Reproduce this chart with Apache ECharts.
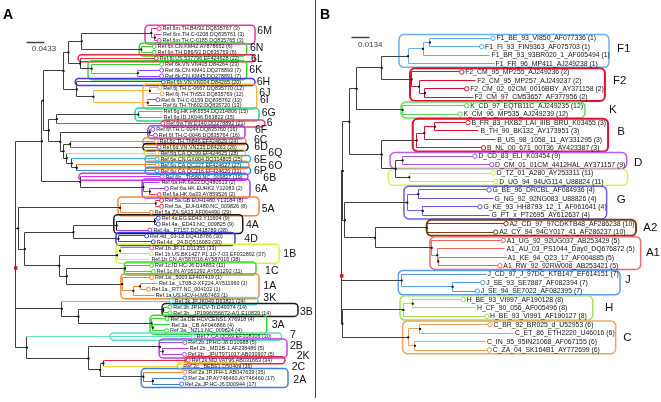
<!DOCTYPE html>
<html>
<head>
<meta charset="utf-8">
<script src="https://cdn.jsdelivr.net/npm/echarts@6.0.0/dist/echarts.min.js"></script>
<style>
html,body{margin:0;padding:0;background:#fff;}
#chart{width:661px;height:402px;}
</style>
</head>
<body>
<div id="chart"></div>
<script>
// ================= DATA : panel A (HCV reference sequences) =================
const leafNamesA = [
 'Ref.6m.TH.B4/92.DQ835767 (3)','Ref.6m.TH.C-0208.DQ835761 (3)','Ref.6m.TH.C-0185.DQ835765 (3)',
 'Ref.6n.CN.KM42.AY878652 (6)','Ref.6n.TH.D86/93.DQ835769 (6)','Ref.6l.US.537796.EF424628 (22)',
 'Ref.6k.VN.VN405.D84264 (23)','Ref.6k.CN.KM41.DQ278893 (7)','Ref.6k.CN.KM45.DQ278891 (7)',
 'Ref.6h.VN.VN004.D84265 (20)','Ref.6j.TH.C-0667.DQ835770 (12)','Ref.6j.TH.Th553.DQ835769 (12)',
 'Ref.6i.TH.C-0159.DQ835762 (13)','Ref.6i.TH.Th602.DQ835720 (13)','Ref.6g.HK.HK6554.DQ314806 (15)',
 'Ref.6g.ID.JK046.D63822 (15)','Ref.6w.TW.D140.DQ278892 (21)','Ref.6f.TH.C-0044.DQ835760 (16)',
 'Ref.6f.TH.C-0046.DQ835764 (16)','Ref.6c.TH.Th846.EF424629 (24)','Ref.6d.VN.VN235.D84263 (26)',
 'Ref.6q.CA.QC99.EF424625 (28)','Ref.6e.CN.GX004.DQ314805 (25)','Ref.6o.CA.QC227.EF424627 (27)',
 'Ref.6p.CA.QC216.EF424626 (31)','Ref.6b._Th580.NC_009827 (19)','Ref.6a.HK.6a33.DQ480513 (2)',
 'Ref.6a.HK.EUHK2.Y12083 (2)','Ref.6a.HK.6a33.AY859526 (2)','Ref.5a.GB.EUH1480.Y13184 (8)',
 'Ref.5a._EUH1480.NC_009826 (8)','Ref.5a.ZA.SA13.AF064490 (29)','Ref.4a.EG.ED43.Y11604 (9)',
 'Ref.4a._ED43.NC_009825 (9)','Ref.4a._F7157.DQ418789 (28)','Ref.4d._03-18.DQ418786 (30)',
 'Ref.4d._24.DQ516083 (30)','Ref.1b.JP.J1.D11355 (33)','Ref.1b.US.BK1427.P1.10-7-03.EF032892 (37)',
 'Ref.1b.CN.AY587016.AY587016 (38)','Ref.1c.ID.HC-J6.D14853 (11)','Ref.1c.IN.AY051292.AY051292 (11)',
 'Ref.1a._5003.EF407419 (1)','Ref.1a._LT08-2-XF224.AY511960 (1)','Ref.1a._R77.NC_004102 (1)',
 'Ref.1a.US.HCV-H.M67463 (1)','Ref.3k.JP.JK049.D63821 (24)','Ref.3b.JP.HCV-Tr.D49374 (14)',
 'Ref.3b._JP1996056672-A/1.E10839 (14)','Ref.3a.DE.HCVCENS1.X76918 (4)','Ref.3a._CB.AF046866 (4)',
 'Ref.3a._NZL1.NC_009824 (4)','Ref.7.CA.QC69.EF108306 (30)','Ref.2b.JP.HC-J8.D10988 (5)',
 'Ref.2b._MD2B-1.AF238486 (5)','Ref.2b._JPUT971017.AB030907 (5)','Ref.2k.MD.VAT96.AB031663 (34)',
 'Ref.2c._BEBE1.D50409 (36)','Ref.2a.JP.JFH-1.AB047639 (35)','Ref.2a.JP.AY746460.AY746460 (17)',
 'Ref.2a.JP.HC-J6.D00944 (17)'
];
// distance of each tip from the root (substitutions / site)
const leafDistA = [
 0.345,0.351,0.345,0.333,0.333,0.338,0.351,0.351,0.351,0.355,
 0.347,0.352,0.342,0.351,0.352,0.352,0.354,0.330,0.336,0.338,
 0.345,0.340,0.340,0.340,0.340,0.352,0.347,0.363,0.345,0.351,
 0.351,0.326,0.343,0.343,0.323,0.315,0.331,0.327,0.326,0.323,
 0.327,0.331,0.327,0.341,0.319,0.333,0.374,0.371,0.371,0.364,
 0.371,0.363,0.427,0.407,0.415,0.406,0.415,0.395,0.407,0.407,0.399
];
const leafCircleA = [
 1,0,1,1,1,1,1,1,1,1, 1,1,1,0,0,0,1,1,1,1, 1,1,1,1,1,1,0,1,1,1,
 1,1,1,1,1,1,1,1,1,0, 1,1,1,0,1,0,1,1,1,1, 0,1,1,1,0,1,1,1,1,1,1
];
// topology: [node depth, ...children]; integers are tip indices
const subMN_A   = [0.159, [0.326, 0, [0.335, 1, 2]], [0.302, 3, 4]];
const subLK_A   = [0.155, 5, [0.183, 6, [0.294, 7, 8]]];
const subHJI_A  = [0.147, 9, [0.187, [0.323, 10, 11], [0.318, 12, 13]]];
const subGW_A   = [0.099, [0.295, 14, 15], 16];
const subFP_A   = [0.107, [0.323, 17, 18], [0.115, [0.131, 19, 20], [0.123, 21, [0.135, 22, [0.147, 23, 24]]]]];
const subBA_A   = [0.155, 25, [0.307, 26, [0.323, 27, 28]]];
const subG6_A   = [0.063, [0.066, [0.115, [0.127, subMN_A, subLK_A], subHJI_A], [0.080, subGW_A, subFP_A]], subBA_A];
const subG5_A   = [0.251, [0.337, 29, 30], 31];
const subG4_A   = [0.139, [0.243, [0.335, 32, 33], 34], [0.247, 35, 36]];
const subG1_A   = [0.105, [0.244, [0.251, 37, 38], 39], [0.123, [0.263, 40, 41], [0.256, 42, [0.283, [0.299, 43, 44], 45]]]];
const subG3_A   = [0.111, 46, [0.151, [0.355, 47, 48], [0.327, 49, [0.330, 50, 51]]]];
const subG2_A   = [0.175, [0.347, 53, [0.354, 54, 55]], [0.203, [0.211, 56, 57], [0.307, 58, [0.330, 59, 60]]]];
const treeA = [0, subG6_A, [0.006, subG5_A, [0.022, subG4_A, subG1_A]], subG3_A, [0.027, 52, subG2_A]];
// clades: [label, first tip, last tip]
const cladesA = [
 ['6M',0,2],['6N',3,4],['6L',5,5],['6K',6,8],['6H',9,9],['6J',10,13],['6G',14,15],['6',16,16],
 ['6F',17,18],['6C',19,19],['6D',20,20],['6Q',21,21],['6E',22,22],['6O',23,23],['6P',24,24],
 ['6B',25,25],['6A',26,28],['5A',29,31],['4A',32,34],['4D',35,36],['1B',37,39],['1C',40,41],
 ['1A',42,45],['3K',46,46],['3B',47,48],['3A',49,51],['7',52,52],['2B',53,55],['2K',56,56],
 ['2C',57,57],['2A',58,60]
];
const extraLabelsA = [['6I',12,13]];
const scaleA = 0.0433;

// ================= DATA : panel B (HIV-1 subtypes) =================
const leafNamesB = [
 'F1_BE_93_VI850_AF077336 (1)','F1_FI_93_FIN9363_AF075703 (1)','F1_BR_93_93BR020_1_AF005494 (1)',
 'F1_FR_96_MP411_AJ249238 (1)','F2_CM_95_MP255_AJ249236 (2)','F2_CM_95_MP257_AJ249237 (2)',
 'F2_CM_02_02CM_0016BBY_AY371158 (2)','F2_CM_97_CM53657_AF377956 (2)','K_CD_97_EQTB11C_AJ249235 (12)',
 'K_CM_96_MP535_AJ249239 (12)','B_FR_83_HXB2_LAI_IIIB_BRU_K03455 (3)','B_TH_90_BK132_AY173951 (3)',
 'B_US_98_1058_11_AY331295 (3)','B_NL_00_671_00T36_AY423387 (3)','D_CD_83_ELI_K03454 (9)',
 'D_CM_01_01CM_4412HAL_AY371157 (9)','D_TZ_01_A280_AY253311 (11)','D_UG_94_94UG114_U88824 (11)',
 'G_BE_96_DRCBL_AF084936 (4)','G_NG_92_92NG083_U88826 (4)','G_KE_93_HH8793_12_1_AF061641 (4)',
 'G_PT_x_PT2695_AY612637 (4)','A2_CD_97_97CDKTB48_AF286238 (10)','A2_CY_94_94CY017_41_AF286237 (10)',
 'A1_UG_92_92UG037_AB253429 (5)','A1_AU_03_PS1044_Day0_DQ676872 (5)','A1_KE_94_Q23_17_AF004885 (5)',
 'A1_RW_92_92RW008_AB253421 (5)','J_CD_97_J_97DC_KTB147_EF614151 (7)','J_SE_93_SE7887_AF082394 (7)',
 'J_SE_94_SE7022_AF082395 (7)','H_BE_93_VI997_AF190128 (8)','H_CF_90_056_AF005496 (8)',
 'H_BE_93_VI991_AF190127 (8)','C_BR_92_BR025_d_U52953 (6)','C_ET_86_ETH2220_U46016 (6)',
 'C_IN_95_95IN21068_AF067155 (6)','C_ZA_04_SK164B1_AY772699 (6)'
];
const leafDistB = [
 0.1152,0.1066,0.1129,0.1160,0.0914,0.1020,0.0952,0.1000,0.0952,0.0901,
 0.0962,0.1045,0.1173,0.1080,0.1015,0.1142,0.1154,0.1173,0.1122,0.1152,
 0.1053,0.1129,0.1251,0.1173,0.1230,0.1243,0.1251,0.1205,0.1099,0.1074,
 0.1032,0.0926,0.1019,0.1104,0.1129,0.1308,0.1095,0.1124
];
const leafCircleB = [
 1,1,0,0,1,0,1,0,1,1, 1,0,0,1,1,1,1,1,1,0, 1,0,1,1,1,0,0,1,0,1, 1,1,0,1,1,0,0,1
];
const subF_B  = [0.0305, [0.0505, [0.0619, [0.0672, 0, 1], 2], 3], [0.0533, 4, [0.0589, 5, [0.0634, 6, 7]]]];
const subBD_B = [0.0305, [0.0571, [0.0629, [0.0710, 10, 11], 12], 13], [0.0411, [0.0464, 14, 15], [0.0515, 16, 17]]];
const subGA_B = [0.0025, [0.0499, [0.0583, 18, 19], [0.0617, 20, 21]],
                 [0.0254, [0.0647, 22, 23], [0.0685, 24, [0.0728, 25, [0.0735, 26, 27]]]]];
const subHC_B = [0.0005, [0.0469, [0.0541, 31, 32], 33], [0.0507, [0.0596, 34, 35], [0.0558, 36, 37]]];
const treeB = [0, [0.0008, [0.0058, [0.0114, subF_B, [0.0464, 8, 9]], subBD_B], subGA_B],
               [0.0457, 28, [0.0845, 29, 30]], subHC_B];
const cladesB = [
 ['F1',0,3],['F2',4,7],['K',8,9],['B',10,13],['D',14,15],['',16,17],['G',18,21],
 ['A2',22,23],['A1',24,27],['J',28,30],['H',31,33],['C',34,37]
];
const scaleB = 0.0134;

// ================= STYLE =================
const paletteA = {
 m6:'#e03aa8', gr:'#30d830', rd:'#e8283c', pu:'#9a40ee', bl:'#4040e0', oy:'#f3b53a', tg:'#28d68c',
 pr:'#ee3f6c', or:'#ef8a3c', bk:'#1a1a1a', yl:'#f0d43a', cy:'#3aaee6', lb:'#2a90ea', mg:'#e22de6',
 pk:'#f0509c', lm:'#dcef3a', c3:'#55dbe8', aq:'#5ee2c2', vi:'#c43fe6', bl2:'#3a80e0'
};
const leafColorA = [
 'm6','m6','m6','gr','gr','rd','gr','pu','pu','bl','oy','oy','pu','pu','tg','tg','pr','pu','pu','or',
 'pu','yl','cy','or','lb','mg','pu','pu','pr','rd','rd','or','bl','bl','pu','bl','bl','pk','yl','lm',
 'gr','gr','or','or','or','or','c3','gr','gr','gr','gr','gr','aq','vi','vi','vi','rd','yl','or','bl2','bl2'
];
const cladeColorA = ['m6','gr','rd','gr','bl','oy','tg','pr','pu','or','bk','yl','cy','or','lb','mg','pu',
 'or','bk','bl','lm','gr','or','c3','bk','gr','aq','vi','rd','yl','bl2'];
const boxFromA = [0.311,0.297,0.150,0.174,0.143,0.306,0.287,0.352,0.318,0.306,0.306,0.309,0.311,0.311,0.311,
 0.152,0.304,0.246,0.236,0.241,0.241,0.261,0.253,0.371,0.352,0.323,0.227,0.345,0.407,0.388,0.302];
const boxToA = [0.5757,0.5557,0.5757,0.5557,0.5757,0.5797,0.5853,0.5997,0.5516,0.5540,0.5588,0.5533,0.5653,
 0.5612,0.5653,0.5588,0.5636,0.5853,0.5461,0.5275,0.6334,0.5781,0.5853,0.5829,0.6791,0.6038,0.6399,0.6526,
 0.6478,0.5396,0.6550];
const labelOffA = [[2.3,-4],[3.3,-1],[-4,1],[2.6,0],[1.7,0],[2.6,-4],[2.7,-1],[1.7,0],[10,-2],[8,-1],[6.3,0],
 [22.6,0],[3.3,1],[19.3,1],[3.3,0],[15.3,1],[5,1],[2.7,3],[3.3,1],[9.3,0],[4.3,0],[9,3],[4.3,0],[5.3,-3],
 [2,2],[5,0],[8.3,-2],[3,-2],[11.7,-4],[51.7,1],[5.3,2]];
const extraLabelRefA = [[5, 3.3, -2.7]]; // [clade whose box end is used, dx, dy]
const rootMarkYA = 40.4;   // vertical place of the red root marker (tip-index units)

const paletteB = {
 f1:'#62aaee', rd:'#e0102e', kg:'#55d855', dp:'#a855e0', dl:'#c8ea4e', gb:'#5a5ae2', br:'#7a3f0e',
 a1:'#ee6060', jb:'#4f98ec', hl:'#9ee04c', co:'#f09a52', bxf1:'#6ab0f0', bxk:'#5ee05e', bxd:'#b462e8',
 bxd2:'#d4f060', bxg:'#6464e2', bxa1:'#f06a6a', bxj:'#5aa0f0', bxh:'#a8e25a', bxc:'#f2a262'
};
const leafColorB = ['f1','f1','f1','f1','rd','rd','rd','rd','kg','kg','rd','rd','rd','rd','dp','dp','dl','dl',
 'gb','gb','gb','gb','br','br','a1','a1','a1','a1','jb','jb','jb','hl','hl','hl','co','co','co','co'];
const cladeColorB = ['bxf1','rd','bxk','rd','bxd','bxd2','bxg','br','bxa1','bxj','bxh','bxc'];
const boxFromB = [0.0436,0.0520,0.0452,0.0541,0.0368,0.0355,0.0474,0.0647,0.0672,0.0431,0.0444,0.0464];
const boxToB = [0.2035,0.2004,0.1852,0.2028,0.2170,0.2177,0.2017,0.2241,0.2276,0.2119,0.1911,0.2086];
const labelOffB = [[8,-2.6],[8,-3.6],[24,0],[9.3,-3.5],[7.3,2.8],[0,0],[10,-3],[7.3,0],[5.3,0],[5,-2.6],
 [12.3,0],[7.6,0]];
const boxWidthB = [1.5,2,1.5,2,1.5,1.5,1.5,2,1.5,1.5,1.5,1.5];
const rootMarkYB = 28.2;

const GRAY = '#404040';
const FONT = '"Liberation Sans", Arial, Helvetica, sans-serif';

// ================= BUILD =================
function build(P) {
  const els = [];
  const n = P.names.length;
  const cladeOf = new Array(n).fill(-1);
  P.clades.forEach((c, i) => { for (let k = c[1]; k <= c[2]; k++) cladeOf[k] = i; });
  function walk(node) {
    if (typeof node === 'number') return { leaf: node, depth: P.dist[node], y: node, leaves: [node] };
    const kids = node.slice(1).map(walk);
    return { depth: node[0], kids, y: (kids[0].y + kids[kids.length - 1].y) / 2,
             leaves: [].concat(...kids.map(k => k.leaves)) };
  }
  const root = walk(P.tree);
  const lines = [], dots = [];
  function colors(node) {
    const c = cladeOf[node.leaves[0]];
    if (c < 0 || !node.leaves.every(l => cladeOf[l] === c)) return [GRAY, GRAY];
    const col = P.palette[P.cladeColor[c]];
    const size = P.clades[c][2] - P.clades[c][1] + 1;
    return node.leaves.length === size ? [GRAY, col] : [col, col];
  }
  function draw(node, pd) {
    if (node.leaf !== undefined) {
      lines.push({ t: 'line', pts: [[pd, node.y], [node.depth, node.y]], color: P.palette[P.leafColor[node.leaf]], w: 1 });
      return;
    }
    const [hc, vc] = colors(node);
    if (pd !== null) lines.push({ t: 'line', pts: [[pd, node.y], [node.depth, node.y]], color: hc, w: 1 });
    lines.push({ t: 'line', pts: [[node.depth, node.kids[0].y], [node.depth, node.kids[node.kids.length - 1].y]], color: vc, w: 1 });
    if (pd !== null) dots.push({ t: 'dot', x: node.depth, y: node.y, color: '#111', s: 2 });
    node.kids.forEach(k => draw(k, node.depth));
  }
  draw(root, null);
  // boxes
  P.clades.forEach((c, i) => {
    els.push({ t: 'rect', x0: P.boxFrom[i], x1: P.boxTo[i], y0: c[1] - P.pad, y1: c[2] + P.pad,
               color: P.palette[P.cladeColor[i]], r: P.radius, w: P.boxW ? P.boxW[i] : 1.5 });
  });
  els.push(...lines, ...dots);
  // tips
  for (let i = 0; i < n; i++) {
    if (P.circles[i]) els.push({ t: 'circle', x: P.dist[i], y: i, color: P.palette[P.leafColor[i]], r: P.circleR });
    els.push({ t: 'text', x: P.dist[i], y: i, dx: P.circles[i] ? P.textGapC : P.textGap, dy: 0.3,
               text: P.names[i], font: P.leafFont, color: '#151515' });
  }
  // clade labels
  P.clades.forEach((c, i) => {
    if (!c[0]) return;
    els.push({ t: 'text', x: P.boxTo[i], y: (c[1] + c[2]) / 2, dx: P.labelOff[i][0], dy: P.labelOff[i][1],
               text: c[0], font: P.cladeFont, color: '#111' });
  });
  (P.extra || []).forEach((c, i) => {
    const ref = P.extraRef[i];
    els.push({ t: 'text', x: P.boxTo[ref[0]], y: (c[1] + c[2]) / 2, dx: ref[1], dy: ref[2],
               text: c[0], font: P.cladeFont, color: '#111' });
  });
  // scale bar
  els.push({ t: 'line', pts: [[P.scaleAt[0], P.scaleAt[1]], [P.scaleAt[0] + P.scale, P.scaleAt[1]]], color: '#444', w: 1.5 });
  els.push({ t: 'text', x: P.scaleAt[0], y: P.scaleAt[1], dx: P.scaleTxt[0], dy: P.scaleTxt[1],
             text: String(P.scale), font: '8px ' + FONT, color: '#444' });
  // root marker
  els.push({ t: 'dot', x: root.depth, y: P.rootMarkY, color: '#e01010', s: 3.5 });
  return els;
}

function snap(v) { return Math.round(v - 0.5) + 0.5; }

function series(els, gi) {
  return {
    type: 'custom', coordinateSystem: 'cartesian2d', xAxisIndex: gi, yAxisIndex: gi,
    silent: true, animation: false, clip: false,
    data: els.map(() => [0, 0]),
    renderItem: function (params, api) {
      const e = els[params.dataIndex];
      if (e.t === 'line') {
        const pts = e.pts.map(p => { const q = api.coord(p); return [snap(q[0]), snap(q[1])]; });
        return { type: 'polyline', shape: { points: pts }, style: { stroke: e.color, lineWidth: e.w, fill: null } };
      }
      if (e.t === 'rect') {
        const a = api.coord([e.x0, e.y0]), b = api.coord([e.x1, e.y1]);
        return { type: 'rect', shape: { x: a[0], y: a[1], width: b[0] - a[0], height: b[1] - a[1], r: e.r },
                 style: { stroke: e.color, fill: 'none', lineWidth: e.w } };
      }
      if (e.t === 'circle') {
        const a = api.coord([e.x, e.y]);
        return { type: 'circle', shape: { cx: a[0], cy: a[1], r: e.r }, style: { fill: '#fff', stroke: e.color, lineWidth: 1 } };
      }
      if (e.t === 'dot') {
        const a = api.coord([e.x, e.y]);
        return { type: 'rect', shape: { x: a[0] - e.s / 2, y: a[1] - e.s / 2, width: e.s, height: e.s },
                 style: { fill: e.color } };
      }
      const a = api.coord([e.x, e.y]);
      return { type: 'text', x: a[0] + e.dx, y: a[1] + e.dy,
               style: { text: e.text, font: e.font, fill: e.color, align: 'left', verticalAlign: 'middle' } };
    }
  };
}

const elsA = build({
  names: leafNamesA, dist: leafDistA, circles: leafCircleA, tree: treeA, clades: cladesA,
  palette: paletteA, leafColor: leafColorA, cladeColor: cladeColorA, boxFrom: boxFromA, boxTo: boxToA,
  labelOff: labelOffA, extra: extraLabelsA, extraRef: extraLabelRefA, pad: 0.6, radius: 4,
  circleR: 2, textGapC: 3.4, textGap: 1.5, leafFont: '5.4px ' + FONT, cladeFont: '10.5px ' + FONT,
  scale: scaleA, scaleAt: [0.0265, 2.36], scaleTxt: [5, 6.6], rootMarkY: rootMarkYA
});
const elsB = build({
  names: leafNamesB, dist: leafDistB, circles: leafCircleB, tree: treeB, clades: cladesB,
  palette: paletteB, leafColor: leafColorB, cladeColor: cladeColorB, boxFrom: boxFromB, boxTo: boxToB,
  labelOff: labelOffB, boxW: boxWidthB, pad: 0.45, radius: 5,
  circleR: 2.2, textGapC: 3.4, textGap: 1.5, leafFont: '6.85px ' + FONT, cladeFont: '11.5px ' + FONT,
  scale: scaleB, scaleAt: [0.0076, -0.07], scaleTxt: [6.3, 7.3], rootMarkY: rootMarkYB
});

const chart = echarts.init(document.getElementById('chart'), null, { renderer: 'canvas' });
chart.setOption({
  backgroundColor: '#ffffff',
  animation: false,
  grid: [
    { left: 15.7, top: 28.7, width: 311.8, height: 355.3 },
    { left: 341.7, top: 38.3, width: 302.1, height: 311.7 }
  ],
  xAxis: [
    { type: 'value', gridIndex: 0, min: 0, max: 0.75, show: false },
    { type: 'value', gridIndex: 1, min: 0, max: 0.23, show: false }
  ],
  yAxis: [
    { type: 'value', gridIndex: 0, min: 0, max: leafNamesA.length - 1, inverse: true, show: false },
    { type: 'value', gridIndex: 1, min: 0, max: leafNamesB.length - 1, inverse: true, show: false }
  ],
  graphic: [
    { type: 'text', x: 3, y: 15, style: { text: 'A', font: 'bold 14px ' + FONT, fill: '#000', verticalAlign: 'middle' } },
    { type: 'text', x: 320, y: 15, style: { text: 'B', font: 'bold 14px ' + FONT, fill: '#000', verticalAlign: 'middle' } },
    { type: 'line', shape: { x1: 315.5, y1: 0, x2: 315.5, y2: 398 }, style: { stroke: '#444', lineWidth: 1 } }
  ],
  series: [series(elsA, 0), series(elsB, 1)]
});
</script>
</body>
</html>
